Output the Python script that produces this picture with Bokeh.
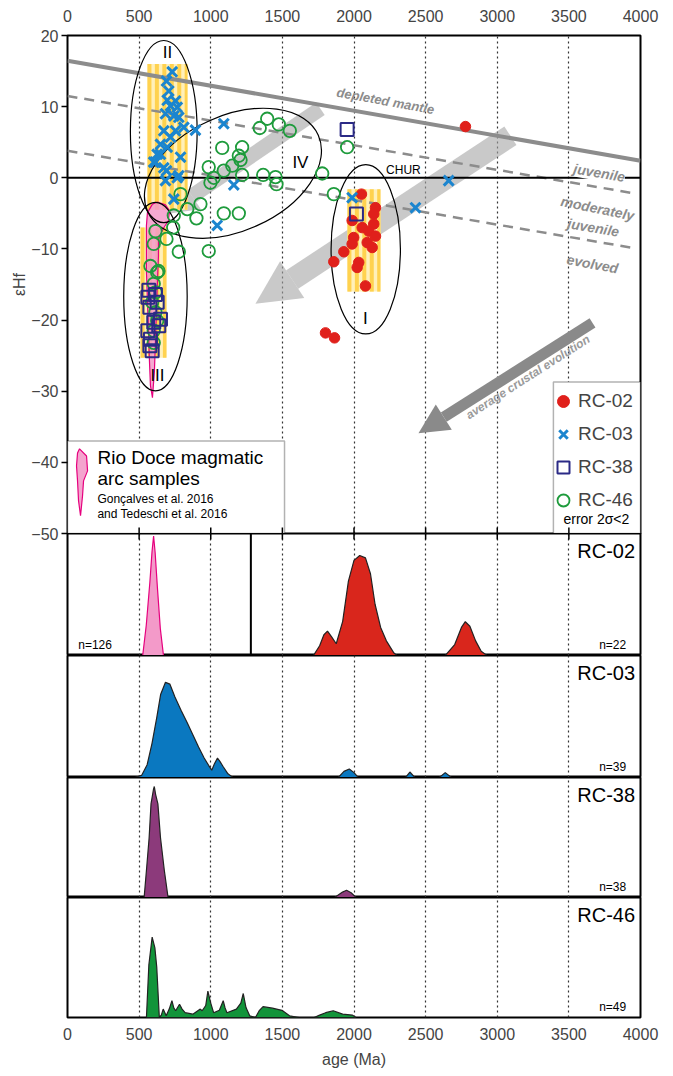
import numpy as np
from bokeh.plotting import figure
from bokeh.models import (Range1d, FixedTicker, Grid, Label, Arrow, NormalHead,
                          BoxAnnotation, Legend, LegendItem, Span)
from bokeh.layouts import column
from bokeh.embed import file_html
from bokeh.resources import INLINE

FONT = "Liberation Sans"

# ---------------- scatter data: age (Ma) vs eHf ----------------
rc02_age = [2778, 2052, 2150, 2138, 1987, 2057, 2138, 2103, 2150, 1998, 1987, 2092, 2127, 1929, 1859, 2033, 2022, 2080, 1801, 1864]
rc02_ehf = [7.2, -2.3, -4.2, -5.1, -6.0, -7.0, -6.5, -7.5, -8.2, -8.4, -9.3, -9.1, -9.8, -10.4, -11.8, -11.9, -12.6, -15.2, -21.8, -22.5]

rc03_age = [731, 691, 696, 754, 719, 766, 684, 742, 812, 893, 1091, 672, 754, 719, 649, 696, 626, 602, 672, 789,
            777, 684, 1161, 742, 1045, 1987, 2429, 2661, 707, 777, 649, 614, 766, 691]
rc03_ehf = [14.9, 13.6, 10.9, 10.8, 10.1, 9.9, 9.0, 8.7, 7.1, 6.7, 7.6, 6.6, 6.6, 5.7, 4.7, 4.3, 3.3, 2.2, 1.4, 2.9,
            0.3, -0.4, -1.0, -3.0, -6.7, -2.8, -4.2, -0.4, 12.2, 8.5, 3.3, 2.2, 0.0, 1.0]

rc38_age = [1952, 2017, 568, 561, 626, 575, 649, 637, 561, 579, 575, 591, 602, 614]
rc38_ehf = [6.8, -5.1, -15.8, -16.8, -17.5, -18.2, -19.9, -20.8, -21.5, -22.7, -23.6, -24.3, -20.3, -16.4]

rc46_age = [1394, 1342, 1475, 1552, 1080, 1219, 1196, 1208, 1150, 1091, 986, 1021, 998, 1219, 1366, 1452,
            1459, 1778, 1859, 1952, 789, 928, 836, 900, 1091, 1196, 742, 738, 691, 614, 602, 777, 986, 579,
            626, 602, 614, 591, 614, 626, 602, 602, 635]
rc46_ehf = [8.3, 7.0, 7.5, 6.6, 4.2, 4.3, 3.1, 2.5, 1.7, 1.0, 1.5, 0.0, -0.7, 0.4, 0.4, 0.1,
            -0.9, 0.6, -2.3, 4.3, -2.3, -3.7, -4.4, -5.7, -5.0, -5.0, -5.3, -7.0, -8.6, -7.5, -9.3, -10.4, -10.3, -12.4,
            -13.3, -14.9, -16.1, -17.5, -18.9, -20.1, -21.5, -23.2, -13.1]

# ---------------- reference evolution lines ----------------
dm_age = [0, 4000];   dm_ehf = [16.45, 2.4]
juv_age = [0, 3930];  juv_ehf = [11.5, -2.1]
evo_age = [0, 3930];  evo_ehf = [3.8, -9.8]
chur_age = [0, 4000]; chur_ehf = [0, 0]

# ---------------- yellow bands ----------------
band_age_lo = [558, 510, 1954]
band_age_hi = [838, 691, 2185]
band_ehf_lo = [-4.5, -25.3, -16.0]
band_ehf_hi = [16.0, -7.0, -1.6]

# ---------------- Rio Doce field ----------------
rio_age = [558, 593, 628, 684, 712, 705, 670, 635, 635, 628, 621, 614, 607, 593, 579, 572, 565, 558, 551, 551, 551]
rio_ehf = [-4.9, -3.7, -3.4, -3.8, -4.6, -6.0, -7.1, -8.6, -11.0, -14.5, -18.7, -22.9, -27.1, -30.9, -29.2, -25.7,
           -21.5, -17.3, -13.1, -9.6, -6.7]
rio_key_age = [84, 133, 140, 112, 105, 91, 77, 70, 63, 70]
rio_key_ehf = [-38.1, -39.1, -41.2, -42.6, -44.7, -47.5, -45.4, -42.6, -40.5, -38.7]

# ---------------- groups (ellipses) ----------------
ell_age = [672, 614, 1155, 2082]
ell_ehf = [6.5, -16.7, 0.63, -10.05]
ell_w = [466, 443, 1305, 484]
ell_h = [25.6, 26.5, 16.2, 23.8]
ell_ang = [0, 0, 0.42, 0]
ell_lab = ["II", "III", "IV", "I"]
ell_lab_age = [698, 628, 1626, 2080]
ell_lab_ehf = [17.6, -27.8, 2.1, -19.8]

# ---------------- arrows ----------------
arr_x0 = [1766, 3092, 3665]
arr_y0 = [9.7, 5.9, -20.4]
arr_x1 = [684, 1312, 2450]
arr_y1 = [-5.1, -17.7, -35.9]

# ---------------- KDE curves ----------------
pink_kde_age = [525, 550, 575, 590, 601, 612, 628, 648, 670]
pink_kde_den = [0, 0.25, 0.6, 0.85, 0.98, 0.84, 0.55, 0.22, 0]

rc02_kde_age = [1717, 1760, 1790, 1815, 1845, 1876, 1921, 1961, 2000, 2040, 2080, 2115, 2147, 2186, 2226, 2279, 2300,
                2637, 2703, 2750, 2777, 2809, 2849, 2888, 2928]
rc02_kde_den = [0, 0.08, 0.17, 0.2, 0.15, 0.096, 0.28, 0.61, 0.78, 0.82, 0.8, 0.67, 0.42, 0.23, 0.12, 0.02, 0,
                0, 0.09, 0.23, 0.277, 0.24, 0.12, 0.035, 0]

rc03_kde_age = [470, 517, 556, 590, 623, 650, 684, 715, 750, 795, 835, 875, 915, 954, 985, 1007, 1025, 1047, 1065,
                1086, 1120, 1155, 1890, 1930, 1967, 2000, 2030, 2360, 2390, 2425, 2595, 2637, 2680]
rc03_kde_den = [0, 0.017, 0.105, 0.28, 0.49, 0.68, 0.78, 0.765, 0.66, 0.545, 0.45, 0.35, 0.25, 0.16, 0.1, 0.06,
                0.11, 0.16, 0.13, 0.09, 0.03, 0, 0, 0.05, 0.07, 0.04, 0, 0, 0.045, 0, 0, 0.04, 0]

rc38_kde_age = [535, 551, 570, 583, 600, 606, 615, 631, 649, 676, 702, 1865, 1920, 1948, 1980, 2015]
rc38_kde_den = [0, 0.225, 0.5, 0.78, 0.9, 0.925, 0.86, 0.78, 0.5, 0.225, 0, 0, 0.045, 0.06, 0.04, 0]

rc46_kde_age = [551, 568, 591, 610, 623, 641, 655, 668, 689, 710, 729, 742, 755, 782, 800, 821, 875, 927, 940, 965,
                980, 1000, 1020, 1060, 1087, 1100, 1113, 1179, 1210, 1227, 1246, 1272, 1312, 1340, 1365, 1431, 1497,
                1550, 1617, 1722, 1760, 1802, 1855, 1921, 1988, 2014]
rc46_kde_den = [0, 0.44, 0.67, 0.58, 0.42, 0, 0.02, 0.07, 0.014, 0.07, 0.14, 0.08, 0.056, 0.11, 0.07, 0.04, 0.028,
                0.07, 0.056, 0.1, 0.22, 0.12, 0.04, 0.06, 0.14, 0.08, 0.04, 0.07, 0.12, 0.2, 0.083, 0.014, 0, 0.06,
                0.09, 0.078, 0.06, 0.014, 0, 0, 0.02, 0.04, 0.056, 0.028, 0.02, 0]

x_ticks = [0, 500, 1000, 1500, 2000, 2500, 3000, 3500, 4000]
grid_ticks = [500, 1000, 1500, 2000, 2500, 3000, 3500]
y_ticks = [-50, -40, -30, -20, -10, 0, 10, 20]

RED = "#E0201B"; BLUE = "#1B85CF"; NAVY = "#2B2A86"; GREEN = "#1E9B3C"
GREY = "#8c8c8c"
LEFT = 67
OVERLAP = 12

# ================= main figure =================
p = figure(frame_width=573, frame_height=498, x_range=Range1d(0, 4000), y_range=Range1d(-50, 20),
           x_axis_location="above", y_axis_location="left", toolbar_location=None,
           output_backend="svg", min_border_left=LEFT, min_border_right=25,
           min_border_top=35, min_border_bottom=OVERLAP, margin=(0, 0, -OVERLAP, 0))
p.grid.visible = False
p.outline_line_color = "black"
p.outline_line_width = 2
p.background_fill_color = "white"

xa = p.xaxis[0]
xa.ticker = FixedTicker(ticks=x_ticks)
xa.major_tick_out = 0; xa.major_tick_in = 0
xa.minor_tick_out = 0; xa.minor_tick_in = 0
xa.axis_line_color = None
xa.major_label_text_font = FONT
xa.major_label_text_font_size = "16px"
xa.major_label_standoff = 14

ya = p.yaxis[0]
ya.ticker = FixedTicker(ticks=y_ticks)
ya.major_tick_out = 6; ya.major_tick_in = 0
ya.minor_tick_out = 0; ya.minor_tick_in = 0
ya.major_tick_line_width = 1.5
ya.axis_line_color = None
ya.major_label_text_font = FONT
ya.major_label_text_font_size = "16px"
ya.major_label_standoff = 3
ya.axis_label = "εHf"
ya.axis_label_text_font = FONT
ya.axis_label_text_font_size = "16px"
ya.axis_label_text_font_style = "normal"
ya.axis_label_standoff = 0

p.add_layout(Grid(dimension=0, ticker=FixedTicker(ticks=grid_ticks), grid_line_color="#333333",
                  grid_line_dash="2 3", grid_line_width=1.2))

# white legend boxes (under glyphs, over grid)
p.add_layout(BoxAnnotation(left=0, right=1515, bottom=-50, top=-37.0, fill_color="white", fill_alpha=1,
                           line_color="black", line_width=1.5, level="underlay"))
p.add_layout(BoxAnnotation(left=3392, right=4000, bottom=-50, top=-28.7, fill_color="white", fill_alpha=1,
                           line_color="black", line_width=1.5, level="underlay"))

# arrows
arr_style = [("#9a9a9a", 0.55, 15, 32), ("#a5a5a5", 0.6, 22, 44), ("#8a8a8a", 1.0, 11, 30)]
for x0, y0, x1, y1, (c, a, w, s) in zip(arr_x0, arr_y0, arr_x1, arr_y1, arr_style):
    p.add_layout(Arrow(end=NormalHead(size=s, fill_color=c, fill_alpha=a, line_color=None),
                       x_start=x0, y_start=y0, x_end=x1, y_end=y1,
                       line_color=c, line_alpha=a, line_width=w, level="underlay"))

# yellow bands
sl, sr, sb, st = [], [], [], []
for lo, hi, b, t in zip(band_age_lo, band_age_hi, band_ehf_lo, band_ehf_hi):
    for a0 in np.arange(lo, hi, 52):
        sl.append(a0); sr.append(min(a0 + 28, hi)); sb.append(b); st.append(t)
p.quad(left=band_age_lo, right=band_age_hi, bottom=band_ehf_lo, top=band_ehf_hi,
       fill_color="#FFF0BA", line_color=None)
p.quad(left=sl, right=sr, bottom=sb, top=st, fill_color="#FFD24F", line_color=None)

# Rio Doce field
p.patch(rio_age, rio_ehf, fill_color="#F39AC9", fill_alpha=0.85, line_color="#E6007E", line_width=1.2)
p.patch(rio_key_age, rio_key_ehf, fill_color="#F39AC9", fill_alpha=0.9, line_color="#E6007E", line_width=1.2)

# lines
p.line(dm_age, dm_ehf, line_color=GREY, line_width=4)
p.line(juv_age, juv_ehf, line_color=GREY, line_width=2.5, line_dash="10 7")
p.line(evo_age, evo_ehf, line_color=GREY, line_width=2.5, line_dash="10 7")
p.line(chur_age, chur_ehf, line_color="black", line_width=2)

# ellipses
p.ellipse(x=ell_age, y=ell_ehf, width=ell_w, height=ell_h, angle=ell_ang,
          fill_color=None, line_color="black", line_width=1.2)

# scatter
r02 = p.scatter(rc02_age, rc02_ehf, marker="circle", size=10.5, fill_color=RED, line_color=RED)
r46 = p.scatter(rc46_age, rc46_ehf, marker="circle", size=12.5, fill_color=None, line_color=GREEN, line_width=1.8)
r38 = p.scatter(rc38_age, rc38_ehf, marker="square", size=13, fill_color=None, line_color=NAVY, line_width=2)
r03 = p.scatter(rc03_age, rc03_ehf, marker="x", size=14, line_color=BLUE, line_width=3)

# boundary ticks
p.segment(x0=grid_ticks, y0=[-50] * len(grid_ticks), x1=grid_ticks, y1=[-49.15] * len(grid_ticks),
          line_color="black", line_width=1.5)

legend = Legend(items=[LegendItem(label="RC-02", renderers=[r02]),
                       LegendItem(label="RC-03", renderers=[r03]),
                       LegendItem(label="RC-38", renderers=[r38]),
                       LegendItem(label="RC-46", renderers=[r46])],
                location=(481, 18), glyph_width=30, glyph_height=30, label_height=30,
                spacing=3, padding=4, margin=0, label_standoff=0,
                label_text_font=FONT, label_text_font_size="19px",
                border_line_color=None, background_fill_alpha=0)
p.add_layout(legend)


def lab(fig, x, y, text, size, **kw):
    opts = dict(text_font=FONT, text_font_size=size, text_color="black",
                text_align="center", text_baseline="middle")
    opts.update(kw)
    fig.add_layout(Label(x=x, y=y, text=text, **opts))


for t, x, y in zip(ell_lab, ell_lab_age, ell_lab_ehf):
    lab(p, x, y, t, "17px")
lab(p, 2345, 1.1, "CHUR", "12px")

gstyle = dict(text_color=GREY, text_font_style="bold italic")
lab(p, 2220, 10.8, "depleted mantle", "13px", angle=-0.18, **gstyle)
lab(p, 3713, 0.7, "juvenile", "14px", angle=-0.17, background_fill_color="white", **gstyle)
lab(p, 3700, -4.3, "moderately", "14px", angle=-0.2, **gstyle)
lab(p, 3671, -7.0, "juvenile", "14px", angle=-0.17, **gstyle)
lab(p, 3665, -12.1, "evolved", "14px", angle=-0.18, **gstyle)
lab(p, 3214, -28.0, "average crustal evolution", "12px", angle=0.57, text_color="#9a9a9a",
    text_font_style="bold italic")

lab(p, 3462, -47.9, "error 2σ<2", "14px", text_align="left")
lab(p, 209, -39.3, "Rio Doce magmatic", "19px", text_align="left")
lab(p, 209, -42.3, "arc samples", "19px", text_align="left")
lab(p, 209, -45.1, "Gonçalves et al. 2016", "12px", text_align="left")
lab(p, 209, -47.2, "and Tedeschi et al. 2016", "12px", text_align="left")


# ================= KDE panels =================
def panel(h, bottom=False):
    f = figure(frame_width=573, frame_height=h, x_range=p.x_range, y_range=Range1d(0, 1),
               x_axis_location="below" if bottom else None, y_axis_location=None,
               toolbar_location=None, output_backend="svg",
               min_border_left=LEFT, min_border_right=25, min_border_top=0,
               min_border_bottom=58 if bottom else 0)
    f.grid.visible = False
    f.outline_line_color = "black"
    f.outline_line_width = 2
    f.background_fill_color = "white"
    f.add_layout(Grid(dimension=0, ticker=FixedTicker(ticks=grid_ticks), grid_line_color="#333333",
                      grid_line_dash="2 3", grid_line_width=1.2))
    if bottom:
        ax = f.xaxis[0]
        ax.ticker = FixedTicker(ticks=x_ticks)
        ax.major_tick_out = 0; ax.major_tick_in = 0
        ax.minor_tick_out = 0; ax.minor_tick_in = 0
        ax.axis_line_color = None
        ax.major_label_text_font = FONT
        ax.major_label_text_font_size = "16px"
        ax.major_label_standoff = 10
        ax.axis_label = "age (Ma)"
        ax.axis_label_text_font = FONT
        ax.axis_label_text_font_size = "16px"
        ax.axis_label_text_font_style = "normal"
        ax.axis_label_standoff = 8
    return f


f02 = panel(122)
f02.border_fill_alpha = 0   # lets the "-50" label of the panel above show through
f02.patch(pink_kde_age, pink_kde_den, fill_color="#F39AC9", line_color="#E6007E", line_width=1.2)
f02.patch(rc02_kde_age, rc02_kde_den, fill_color="#D9261C", line_color="#222222", line_width=1.2)
f02.add_layout(Span(location=1280, dimension="height", line_color="black", line_width=2))
f02.segment(x0=grid_ticks, y0=[1.0] * len(grid_ticks), x1=grid_ticks, y1=[0.95] * len(grid_ticks),
            line_color="black", line_width=1.5)
lab(f02, 3962, 0.95, "RC-02", "20px", text_align="right", text_baseline="top")
lab(f02, 3900, 0.03, "n=22", "12px", text_align="right", text_baseline="bottom")
lab(f02, 75, 0.03, "n=126", "12px", text_align="left", text_baseline="bottom")

f03 = panel(122)
f03.patch(rc03_kde_age, rc03_kde_den, fill_color="#0A78C0", line_color="#222222", line_width=1.2)
lab(f03, 3962, 0.95, "RC-03", "20px", text_align="right", text_baseline="top")
lab(f03, 3900, 0.03, "n=39", "12px", text_align="right", text_baseline="bottom")

f38 = panel(120)
f38.patch(rc38_kde_age, rc38_kde_den, fill_color="#8C3A7B", line_color="#222222", line_width=1.2)
lab(f38, 3962, 0.95, "RC-38", "20px", text_align="right", text_baseline="top")
lab(f38, 3900, 0.03, "n=38", "12px", text_align="right", text_baseline="bottom")

f46 = panel(120, bottom=True)
f46.patch(rc46_kde_age, rc46_kde_den, fill_color="#12943A", line_color="#222222", line_width=1.2)
lab(f46, 3962, 0.95, "RC-46", "20px", text_align="right", text_baseline="top")
lab(f46, 3900, 0.03, "n=49", "12px", text_align="right", text_baseline="bottom")

layout = column(p, f02, f03, f38, f46, spacing=0)
open("out.html", "w").write(file_html(layout, INLINE))
